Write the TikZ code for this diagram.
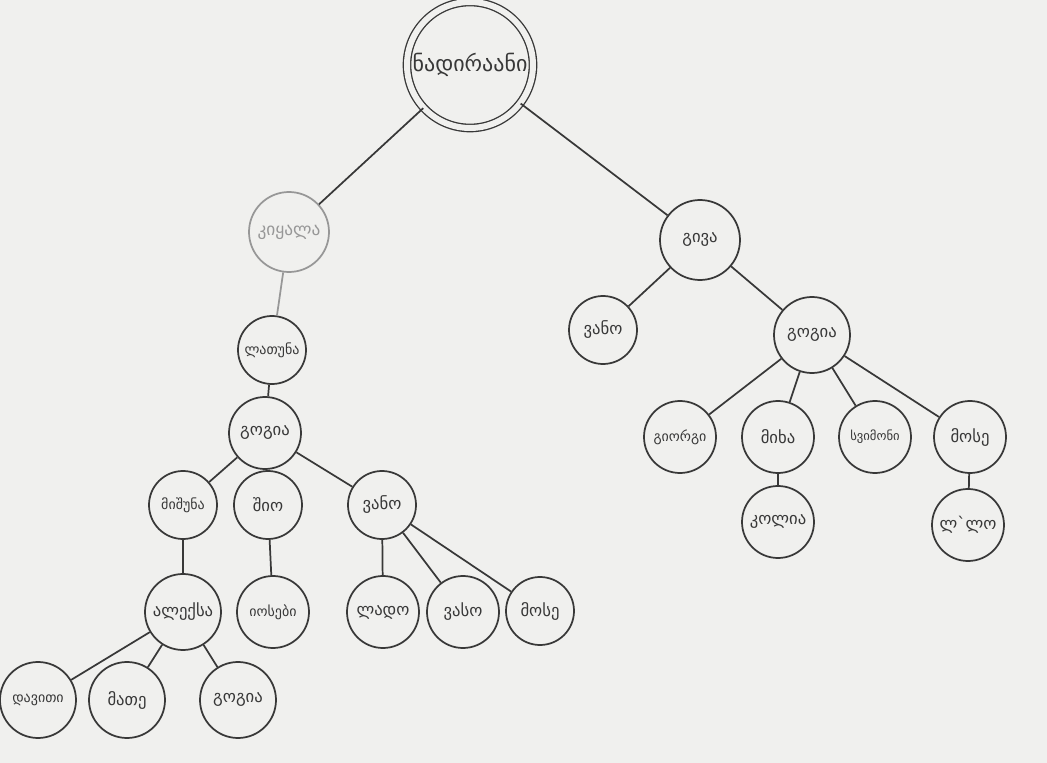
\documentclass[tikz,border=0pt]{standalone}
\usepackage{fontspec}
\newfontfamily\geo{DejaVu Sans}
\definecolor{paper}{HTML}{F0F0EE}
\definecolor{ink}{HTML}{383838}
\definecolor{faint}{HTML}{979797}
\tikzset{
  person/.style={circle, draw=ink, line width=1.3pt, fill=paper, inner sep=0pt,
    font=\geo\fontsize{12.5}{14}\selectfont, text=ink},
  small/.style={font=\geo\fontsize{10.5}{12}\selectfont},
  tiny/.style={font=\geo\fontsize{9.5}{11}\selectfont},
  r34/.style={minimum size=68*0.75pt},
  r36/.style={minimum size=72*0.75pt},
  r38/.style={minimum size=76*0.75pt},
  r40/.style={minimum size=80*0.75pt},
  link/.style={draw=ink, line width=1.3pt},
}
\begin{document}
\begin{tikzpicture}[x=0.75pt, y=-0.75pt]
  \fill[paper] (0,0) rectangle (1047,763);
  \useasboundingbox (0,0) rectangle (1047,763);

  % root of the family: a double ring
  \node[person, minimum size=126*0.75pt, double=paper, double distance=4.5pt,
        line width=1pt, font=\geo\fontsize{16.5}{18}\selectfont] (root) at (470,65) {ნადირაანი};

  % left branch
  \node[person, r40, draw=faint, text=faint, font=\geo\fontsize{13}{15}\selectfont] (kiqala) at (289,232) {კიყალა};
  \node[person, r34, small] (latuna) at (272,350) {ლათუნა};
  \node[person, r36] (gogiaL) at (265,433) {გოგია};
  \node[person, r34, small] (mishuna) at (183,505) {მიშუნა};
  \node[person, r34] (shio) at (268,505) {შიო};
  \node[person, r34] (vanoL) at (382,505) {ვანო};
  \node[person, r38] (aleksa) at (183,612) {ალექსა};
  \node[person, r36, small] (iosebi) at (273,612) {იოსები};
  \node[person, r36] (lado) at (383,612) {ლადო};
  \node[person, r36] (vaso) at (463,612) {ვასო};
  \node[person, r34] (moseL) at (540,611) {მოსე};
  \node[person, r38, small] (daviti) at (38,700) {დავითი};
  \node[person, r38] (mate) at (127,700) {მათე};
  \node[person, r38] (gogiaB) at (238,700) {გოგია};

  % right branch
  \node[person, r40] (giva) at (700,240) {გივა};
  \node[person, r34] (vanoR) at (603,330) {ვანო};
  \node[person, r38] (gogiaR) at (812,335) {გოგია};
  \node[person, r36, small] (giorgi) at (680,437) {გიორგი};
  \node[person, r36] (mikha) at (778,437) {მიხა};
  \node[person, r36, tiny] (svimoni) at (875,437) {სვიმონი};
  \node[person, r36] (moseR) at (970,437) {მოსე};
  \node[person, r36] (kolia) at (778,522) {კოლია};
  \node[person, r36] (lelo) at (968,525) {ლ`ლო};

  % parent-child links
  \draw[link] (root) -- (kiqala);
  \draw[link] (root) -- (giva);
  \draw[link, draw=faint] (kiqala) -- (latuna);
  \draw[link] (latuna) -- (gogiaL);
  \draw[link] (gogiaL) -- (mishuna);
  \draw[link] (gogiaL) -- (shio);
  \draw[link] (gogiaL) -- (vanoL);
  \draw[link] (mishuna) -- (aleksa);
  \draw[link] (shio) -- (iosebi);
  \draw[link] (vanoL) -- (lado);
  \draw[link] (vanoL) -- (vaso);
  \draw[link] (vanoL) -- (moseL);
  \draw[link] (aleksa) -- (daviti);
  \draw[link] (aleksa) -- (mate);
  \draw[link] (aleksa) -- (gogiaB);
  \draw[link] (giva) -- (vanoR);
  \draw[link] (giva) -- (gogiaR);
  \draw[link] (gogiaR) -- (giorgi);
  \draw[link] (gogiaR) -- (mikha);
  \draw[link] (gogiaR) -- (svimoni);
  \draw[link] (gogiaR) -- (moseR);
  \draw[link] (mikha) -- (kolia);
  \draw[link] (moseR) -- (lelo);
\end{tikzpicture}
\end{document}
